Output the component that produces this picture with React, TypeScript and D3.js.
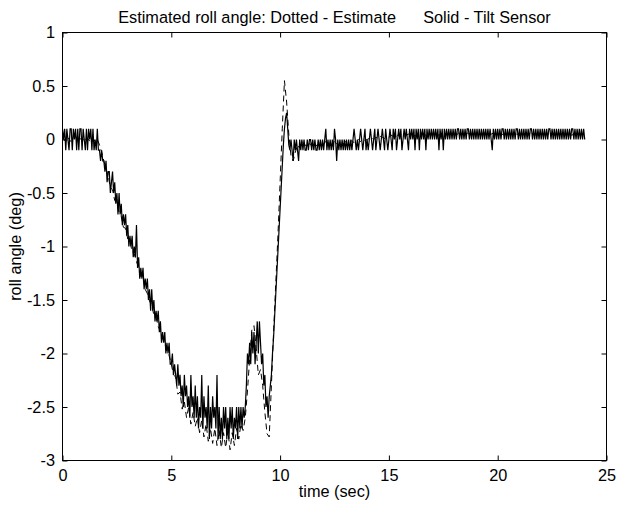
import React, { useRef, useEffect } from 'react';
import * as d3 from 'd3';

const TITLE = 'Estimated roll angle: Dotted - Estimate      Solid - Tilt Sensor';
const X_LABEL = 'time (sec)';
const Y_LABEL = 'roll angle (deg)';
const X_TICKS = [0, 5, 10, 15, 20, 25];
const Y_TICKS = [1, 0.5, 0, -0.5, -1, -1.5, -2, -2.5, -3];
const TILT_STEP = 0.05; // s between tilt sensor samples
const EST_STEP = 0.1; // s between estimate samples

// tilt sensor reading (deg), one row per second starting at t = 0
const tiltSensor = [
  0.1, 0, 0.1, -0.1, 0.1, 0, -0.1, 0.1, 0.1, -0.1, 0.1, 0, 0.1, -0.1, 0.1, -0.1, 0.1, 0.1, -0.1, 0.1,
  0, -0.1, 0.1, -0.1, 0.1, 0, 0.1, -0.1, 0.1, -0.1, 0, -0.1, 0.1, -0.1, -0.1, -0.2, -0.1, -0.2, -0.2, -0.3,
  -0.2, -0.4, -0.3, -0.3, -0.5, -0.4, -0.3, -0.5, -0.4, -0.6, -0.5, -0.7, -0.5, -0.7, -0.6, -0.8, -0.7, -0.8, -0.7, -0.9,
  -0.8, -1.0, -0.9, -1.0, -0.9, -1.1, -1.0, -1.1, -0.8, -1.2, -1.1, -1.3, -1.2, -1.3, -1.2, -1.4, -1.3, -1.4, -1.3, -1.5,
  -1.4, -1.6, -1.4, -1.6, -1.5, -1.7, -1.6, -1.7, -1.6, -1.8, -1.7, -1.9, -1.8, -1.9, -1.8, -2.0, -1.9, -2.0, -1.9, -2.1,
  -2.1, -2.0, -2.2, -2.1, -2.2, -2.3, -2.1, -2.3, -2.2, -2.4, -2.3, -2.5, -2.2, -2.4, -2.3, -2.5, -2.4, -2.6, -2.2, -2.5,
  -2.4, -2.6, -2.3, -2.6, -2.4, -2.7, -2.5, -2.6, -2.2, -2.7, -2.4, -2.6, -2.5, -2.7, -2.3, -2.8, -2.5, -2.7, -2.4, -2.6,
  -2.5, -2.7, -2.2, -2.8, -2.5, -2.8, -2.6, -2.8, -2.5, -2.7, -2.5, -2.8, -2.6, -2.8, -2.5, -2.7, -2.5, -2.8, -2.6, -2.7,
  -2.5, -2.8, -2.5, -2.7, -2.5, -2.7, -2.5, -2.6, -2.5, -2.3, -2.0, -2.1, -1.9, -2.1, -1.8, -2.0, -1.8, -2.1, -1.9, -1.7,
  -2.0, -1.7, -1.9, -2.1, -2.0, -2.3, -2.2, -2.5, -2.4, -2.6, -2.4, -2.3, -2.2, -2.0, -1.85, -1.65, -1.45, -1.25, -1.05, -0.85,
  -0.65, -0.45, -0.25, -0.05, 0.1, 0.2, 0.25, 0.1, -0.05, -0.1, 0, -0.1, -0.2, 0, -0.1, 0, -0.1, -0.2, 0, -0.1,
  0, -0.1, 0, -0.1, -0.1, 0, -0.1, 0, 0, -0.1, 0, -0.1, 0, -0.1, -0.1, 0, -0.1, 0, -0.1, 0,
  -0.1, 0, 0.1, -0.1, 0, -0.1, 0, -0.1, 0, -0.1, 0.1, 0, -0.2, 0, -0.1, 0, -0.1, 0, -0.1, 0,
  -0.1, 0, -0.1, 0, -0.1, 0, -0.1, 0, 0.1, 0, -0.1, 0, -0.1, 0, 0.1, 0, -0.1, 0, 0.1, -0.1,
  0, -0.1, 0, 0.1, 0, -0.1, 0, 0.1, -0.1, 0, 0.1, 0, -0.1, 0, 0.1, 0, -0.1, 0.1, 0, -0.1,
  0, 0.1, 0, -0.1, 0.1, 0, 0.1, -0.1, 0, 0.1, 0, 0.1, -0.1, 0, 0.1, 0, 0.1, 0, -0.1, 0.1,
  0, 0.1, 0, 0.1, -0.1, 0.1, 0, 0.1, -0.1, 0.1, 0, 0.1, 0, 0.1, -0.1, 0.1, 0, 0.1, 0, 0.1,
  0, 0.1, 0, 0.1, 0, 0.1, -0.1, 0.1, 0, 0.1, -0.1, 0.1, 0, 0.1, 0, 0.1, 0, 0.1, 0, 0.1,
  0, 0.1, 0, 0.1, 0.1, 0, 0.1, 0, 0.1, 0, 0.1, 0, 0.1, 0.1, 0, 0.1, 0, 0.1, 0, 0.1,
  0, 0.1, 0, 0.1, 0, 0.1, 0, 0.1, 0, 0.1, 0, 0.1, 0, 0.1, 0, -0.1, 0.1, 0, 0.1, 0,
  0.1, 0, 0.1, 0, 0.1, 0.1, 0, 0.1, 0, 0.1, 0, 0.1, 0, 0.1, 0, 0.1, 0, 0.1, 0.1, 0,
  0.1, 0, 0.1, 0, 0.1, 0, 0.1, 0, 0.1, 0, 0.1, 0.1, 0, 0.1, 0, 0.1, 0, 0.1, 0, 0.1,
  0, 0.1, 0, 0.1, 0, 0.1, 0, 0.1, 0.1, 0, 0.1, 0, 0.1, 0, 0.1, 0, 0.1, 0, 0.1, 0,
  0.1, 0, 0.1, 0, 0.1, 0, 0.1, 0, 0.1, 0.1, 0, 0.1, 0, 0.1, 0, 0.1, 0, 0.1, 0, 0.1,
  0,
];

// filter estimate (deg), one row per second starting at t = 0
const estimate = [
  0.02, -0.01, 0.03, 0, -0.02, 0.01, 0.03, -0.01, 0, 0.02,
  -0.02, 0.01, 0, -0.03, 0.01, -0.02, 0, -0.05, -0.12, -0.2,
  -0.28, -0.34, -0.45, -0.47, -0.57, -0.6, -0.68, -0.72, -0.82, -0.83,
  -0.93, -0.95, -1.05, -1.07, -1.14, -1.2, -1.29, -1.3, -1.4, -1.44,
  -1.51, -1.55, -1.64, -1.66, -1.75, -1.79, -1.86, -1.9, -1.99, -2.02,
  -2.1, -2.2, -2.22, -2.38, -2.36, -2.52, -2.45, -2.6, -2.5, -2.66,
  -2.55, -2.68, -2.6, -2.74, -2.62, -2.78, -2.66, -2.82, -2.7, -2.84,
  -2.7, -2.86, -2.72, -2.88, -2.74, -2.88, -2.72, -2.9, -2.74, -2.86,
  -2.7, -2.8, -2.66, -2.72, -2.6, -2.35, -2.05, -1.78, -1.74, -1.95,
  -2.2, -2.15, -2.3, -2.55, -2.75, -2.78, -2.3, -1.8, -1.35, -0.9,
  -0.4, 0.1, 0.55, 0.35, 0.05, -0.15, -0.2, -0.12, -0.05, -0.08,
  -0.02, -0.04, -0.06, -0.03, -0.05, -0.02, -0.04, -0.06, -0.03, -0.05,
  -0.04, -0.02, -0.05, -0.03, -0.06, -0.02, -0.04, -0.05, -0.03, -0.04,
  -0.02, -0.04, -0.03, -0.01, -0.03, -0.02, 0, -0.02, 0.01, -0.01,
  0, 0.01, 0.02, 0, 0.02, 0.01, 0.03, 0.02, 0.01, 0.03,
  0.02, 0.04, 0.03, 0.02, 0.04, 0.03, 0.05, 0.03, 0.04, 0.05,
  0.04, 0.05, 0.03, 0.05, 0.04, 0.06, 0.05, 0.04, 0.06, 0.05,
  0.04, 0.06, 0.05, 0.04, 0.05, 0.06, 0.04, 0.05, 0.06, 0.05,
  0.05, 0.04, 0.06, 0.05, 0.04, 0.05, 0.06, 0.05, 0.04, 0.05,
  0.06, 0.05, 0.04, 0.05, 0.06, 0.04, 0.05, 0.05, 0.06, 0.04,
  0.05, 0.06, 0.05, 0.04, 0.05, 0.06, 0.05, 0.04, 0.05, 0.05,
  0.04, 0.05, 0.06, 0.05, 0.04, 0.06, 0.05, 0.05, 0.04, 0.05,
  0.06, 0.05, 0.04, 0.05, 0.05, 0.06, 0.04, 0.05, 0.06, 0.05,
  0.05, 0.04, 0.06, 0.05, 0.04, 0.05, 0.06, 0.05, 0.04, 0.05,
  0.05,
];

const FONT = 'Arial, "Liberation Sans", Helvetica, sans-serif';
const FONT_SIZE = 16.3;

const App = () => {
  const svgRef = useRef<SVGSVGElement>(null);

  useEffect(() => {
    const svg = d3.select(svgRef.current);
    svg.selectAll('*').remove();

    const left = 62.5, right = 606.5, top = 32.5, bottom = 460.5;

    const x = d3.scaleLinear().domain([0, 25]).range([left, right]);
    const y = d3.scaleLinear().domain([-3, 1]).range([bottom, top]);

    const styleAxis = (g) => {
      g.select('.domain').remove();
      g.attr('font-family', FONT).attr('font-size', FONT_SIZE);
      g.selectAll('line').attr('stroke', '#000');
      g.selectAll('text').attr('fill', '#000');
    };

    // ticks point inward on all four sides, labels only bottom/left
    svg.append('g')
      .attr('transform', `translate(0,${bottom})`)
      .call(d3.axisBottom(x).tickValues(X_TICKS).tickSize(-5).tickPadding(8.5).tickFormat(d => String(d)))
      .call(styleAxis);
    svg.append('g')
      .attr('transform', `translate(0,${top})`)
      .call(d3.axisTop(x).tickValues(X_TICKS).tickSize(-5).tickFormat(() => ''))
      .call(styleAxis);
    svg.append('g')
      .attr('transform', `translate(${left},0)`)
      .call(d3.axisLeft(y).tickValues(Y_TICKS).tickSize(-5).tickPadding(7.5).tickFormat(d => String(d)))
      .call(styleAxis);
    svg.append('g')
      .attr('transform', `translate(${right},0)`)
      .call(d3.axisRight(y).tickValues(Y_TICKS).tickSize(-5).tickFormat(() => ''))
      .call(styleAxis);

    svg.append('rect')
      .attr('x', left).attr('y', top)
      .attr('width', right - left).attr('height', bottom - top)
      .attr('fill', 'none').attr('stroke', '#000');

    const lineOf = (step: number) => d3.line<number>()
      .x((_, i) => x(i * step))
      .y(d => y(d));

    svg.append('path')
      .datum(estimate)
      .attr('d', lineOf(EST_STEP))
      .attr('fill', 'none')
      .attr('stroke', '#000')
      .attr('stroke-width', 1)
      .attr('stroke-dasharray', '6,4');

    svg.append('path')
      .datum(tiltSensor)
      .attr('d', lineOf(TILT_STEP))
      .attr('fill', 'none')
      .attr('stroke', '#000')
      .attr('stroke-width', 1.2);

    // title and axis labels
    svg.append('text')
      .attr('x', (left + right) / 2).attr('y', 23)
      .attr('text-anchor', 'middle')
      .attr('font-family', FONT).attr('font-size', FONT_SIZE)
      .style('white-space', 'pre')
      .text(TITLE);

    svg.append('text')
      .attr('x', (left + right) / 2).attr('y', 497)
      .attr('text-anchor', 'middle')
      .attr('font-family', FONT).attr('font-size', FONT_SIZE)
      .text(X_LABEL);

    svg.append('text')
      .attr('transform', `translate(21,${(top + bottom) / 2}) rotate(-90)`)
      .attr('text-anchor', 'middle')
      .attr('font-family', FONT).attr('font-size', FONT_SIZE)
      .text(Y_LABEL);
  }, []);

  return (
    <svg
      ref={svgRef}
      width={617}
      height={510}
      style={{ position: 'absolute', left: 0, top: 0, background: '#fff' }}
    />
  );
};

export default App;
